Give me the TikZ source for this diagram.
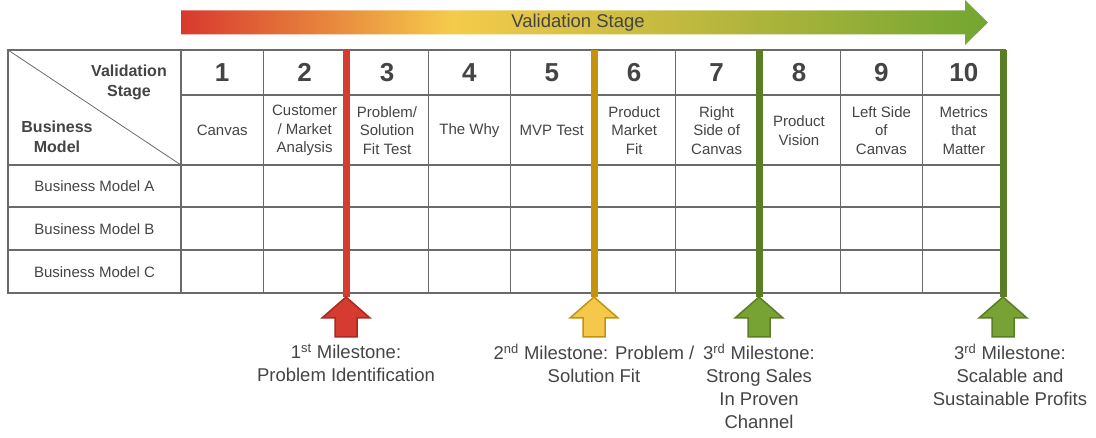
\documentclass[tikz,border=0pt]{standalone}
\usepackage{fontspec}
\setmainfont{Liberation Sans}
\usetikzlibrary{positioning}

\definecolor{gridgray}{HTML}{6A6A6A}
\definecolor{textgray}{HTML}{444444}
\definecolor{msred}{HTML}{D63B2F}
\definecolor{msredline}{HTML}{A52A21}
\definecolor{msgold}{HTML}{F5C84B}
\definecolor{msgoldline}{HTML}{C4920F}
\definecolor{msgreen}{HTML}{76A333}
\definecolor{msgreenline}{HTML}{5A7D25}
\definecolor{gradred}{HTML}{D8392E}
\definecolor{gradorange}{HTML}{E8873D}
\definecolor{gradyellow}{HTML}{F5CB4B}
\definecolor{gradolive}{HTML}{BDB83E}
\definecolor{gradgreen}{HTML}{72A631}

\pgfdeclarehorizontalshading{stagegrad}{100bp}{color(0bp)=(gradred); color(25bp)=(gradred);
  color(34.2bp)=(gradorange); color(41.7bp)=(gradyellow); color(57bp)=(gradolive);
  color(75bp)=(gradgreen); color(100bp)=(gradgreen)}

\tikzset{
  grid/.style={draw=gridgray, line width=1.3pt},
  numcell/.style={font=\fontsize{26}{30}\selectfont\bfseries, text=textgray, inner sep=0pt},
  labelcell/.style={font=\fontsize{15}{18.5}\selectfont, text=textgray, align=center, inner sep=0pt},
  headcell/.style={font=\fontsize{16}{20}\selectfont\bfseries, text=textgray, align=center, inner sep=0pt},
  milestone/.style={font=\fontsize{18.5}{23}\selectfont, text=textgray, align=center, inner sep=0pt},
  msbar/.style={line width=7pt},
  msarrow/.style={line width=1.5pt, line join=miter}
}

\begin{document}
\begin{tikzpicture}[x=1pt, y=-1pt]
\useasboundingbox (0,0) rectangle (1096,438);

% Stage arrow
\shade[shading=stagegrad] (181,10.5) -- (965,10.5) -- (965,0) -- (988,22.5) -- (965,45) -- (965,34.5) -- (181,34.5) -- cycle;
\node[font=\fontsize{18.5}{22}\selectfont, text=textgray] (stagetitle) at (578,22.5) {Validation Stage};

% Table grid
\draw[grid] (8,50) rectangle (1005,293);
\draw[grid] (181,95) -- (1005,95);
\foreach \y in {165,207,250}
  \draw[grid] (8,\y) -- (1005,\y);
\foreach \i in {0,...,9}
  \draw[grid] ({181+82.4*\i},50) -- ({181+82.4*\i},293);
\draw[draw=gridgray, line width=0.8pt] (8,50) -- (181,165);

% Corner headings
\node[headcell] (stagehead) at (129,82.5) {Validation\\Stage};
\node[headcell] (modelhead) at (57,137) {Business\\Model};

% Stage numbers
\foreach \i in {1,...,10}
  \node[numcell] (num\i) at ({181+82.4*(\i-0.5)},72.5) {\i};

% Stage names
\node[labelcell] (lab1) at (222.2,130.5) {Canvas};
\node[labelcell] (lab2) at (304.6,130.5) {Customer\\/ Market\\Analysis};
\node[labelcell] (lab3) at (387.0,130.5) {Problem/\\Solution\\Fit Test};
\node[labelcell] (lab4) at (469.4,130.5) {The Why};
\node[labelcell] (lab5) at (551.8,130.5) {MVP Test};
\node[labelcell] (lab6) at (634.2,130.5) {Product\\Market\\Fit};
\node[labelcell] (lab7) at (716.6,130.5) {Right\\Side of\\Canvas};
\node[labelcell] (lab8) at (799.0,130.5) {Product\\Vision};
\node[labelcell] (lab9) at (881.4,130.5) {Left Side\\of\\Canvas};
\node[labelcell] (lab10) at (963.8,130.5) {Metrics\\that\\Matter};

% Business models
\node[labelcell] (bmA) at (94.5,186.5) {Business Model A};
\node[labelcell] (bmB) at (94.5,229) {Business Model B};
\node[labelcell] (bmC) at (94.5,272) {Business Model C};

% Milestone bars and arrows
\foreach \x/\bar/\fillc/\linec in {346/msred/msred/msredline, 594/msgoldline/msgold/msgoldline,
    759/msgreenline/msgreen/msgreenline, 1003/msgreenline/msgreen/msgreenline} {
  \draw[msbar, \bar] (\x,50) -- (\x,297);
  \draw[msarrow, fill=\fillc, draw=\linec] (\x,297) -- ({\x+24},318) -- ({\x+11},318) -- ({\x+11},337)
    -- ({\x-11},337) -- ({\x-11},318) -- ({\x-24},318) -- cycle;
}

% Milestone texts
\node[milestone, anchor=north] (ms1) at (346,343.5) {1\textsuperscript{st} Milestone:\\Problem Identification};
\node[milestone, anchor=north] (ms2) at (594,343.5) {2\textsuperscript{nd} Milestone: Problem /\\Solution Fit};
\node[milestone, anchor=north] (ms3) at (759,343.5) {3\textsuperscript{rd} Milestone:\\Strong Sales\\In Proven\\Channel};
\node[milestone, anchor=north] (ms4) at (1010,343.5) {3\textsuperscript{rd} Milestone:\\Scalable and\\Sustainable Profits};
\end{tikzpicture}
\end{document}
